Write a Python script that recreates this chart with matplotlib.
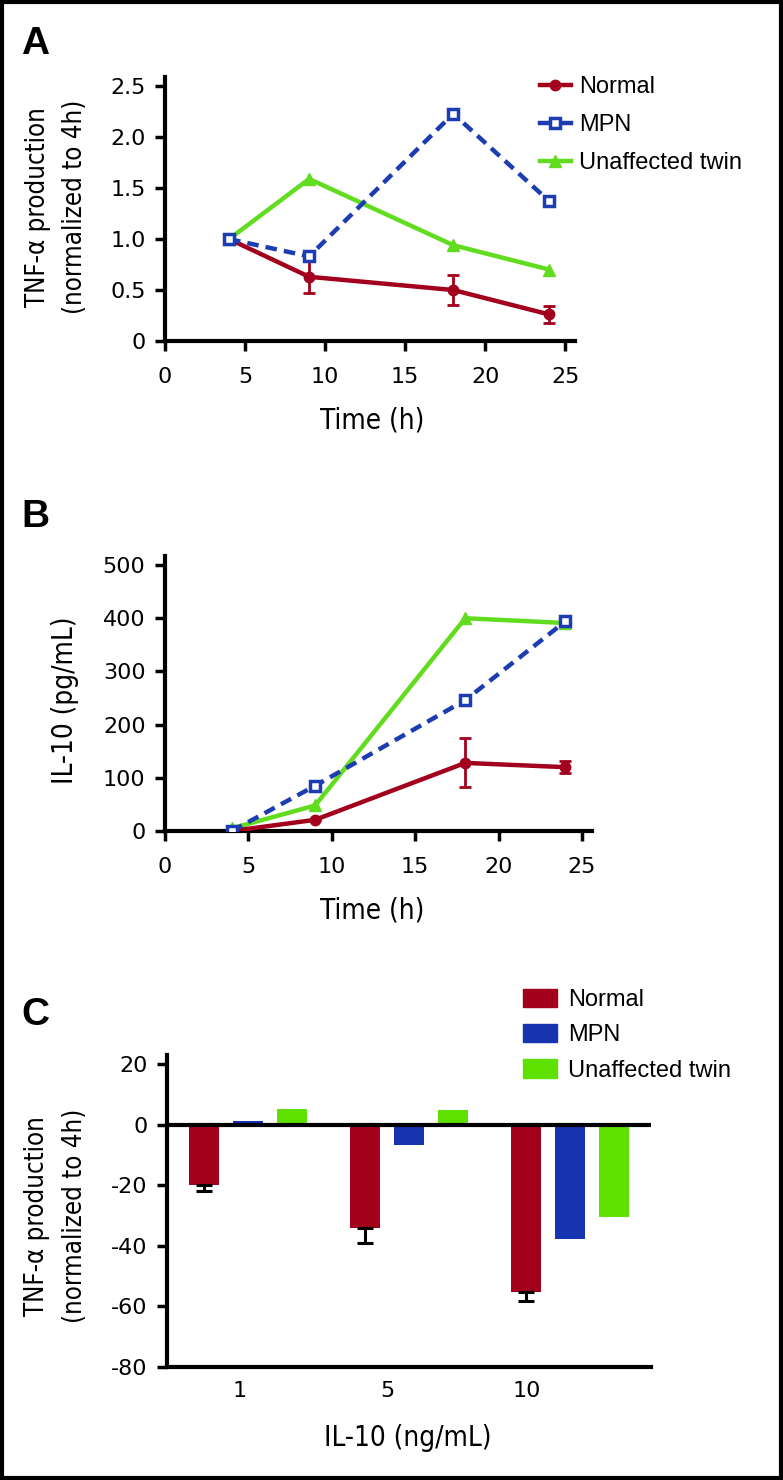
import numpy as np
import matplotlib
matplotlib.use("Agg")
from matplotlib import pyplot as plt
from matplotlib import font_manager
from matplotlib.patches import Rectangle, Patch
from matplotlib.lines import Line2D

plt.rcParams["axes.unicode_minus"] = False
plt.rcParams["font.family"] = "DejaVu Sans"
plt.rcParams["xtick.labelsize"] = 16
plt.rcParams["ytick.labelsize"] = 16

# panel A / B: time course
hours = [4, 9, 18, 24]
tnf_normal = [1.0, 0.63, 0.50, 0.26]
tnf_normal_err = [0.0, 0.155, 0.145, 0.08]
tnf_mpn = [1.0, 0.83, 2.23, 1.37]
tnf_twin = [1.0, 1.59, 0.94, 0.70]

il10_normal = [0, 21, 128, 120]
il10_normal_err = [0, 0, 46, 11]
il10_mpn = [0, 85, 246, 394]
il10_twin = [5, 48, 400, 391]

# panel C: IL-10 dose
doses = ["1", "5", "10"]
supp_normal = [-19.8, -34.2, -55.1]
supp_normal_err = [2.2, 4.8, 3.0]
supp_mpn = [1.1, -6.6, -37.9]
supp_twin = [5.3, 4.9, -30.4]

RED = "#a2001c"
BLUE = "#1c3cb2"
GREEN = "#62dc1e"
BAR_RED = "#a3001b"
BAR_BLUE = "#1633b0"
BAR_GREEN = "#5ee000"

W, H = 783, 1480
LEG_FONT = ["Liberation Sans", "DejaVu Sans"]


def condensed_font():
    # axis titles in the original use a condensed sans; take one if installed
    for f in font_manager.fontManager.ttflist:
        narrow = "narrow" in f.name.lower() or "condensed" in f.name.lower() \
            or str(f.stretch).lower() in ("condensed", "semi-condensed", "extra-condensed")
        if narrow and str(f.weight) in ("400", "normal", "regular", "500", "medium") \
                and f.style == "normal":
            return font_manager.FontProperties(fname=f.fname), True
    return font_manager.FontProperties(family="Liberation Sans"), False


LABEL_PROP, IS_NARROW = condensed_font()
XLABEL_SIZE = 20 if IS_NARROW else 18
YLABEL_SIZE = 18.5 if IS_NARROW else 17

fig = plt.figure(figsize=(W / 100, H / 100), dpi=100)


def px_axes(left, top, right, bottom):
    return fig.add_axes([left / W, 1 - bottom / H, (right - left) / W, (bottom - top) / H])


def px_text(x, y, s, **kw):
    return fig.text(x / W, 1 - y / H, s, **kw)


def style_axes(ax, xpad=12):
    for side in ("top", "right"):
        ax.spines[side].set_visible(False)
    for side in ("left", "bottom"):
        ax.spines[side].set_linewidth(3)
    ax.tick_params(axis="both", direction="out", length=7, width=2.5, pad=7)
    ax.tick_params(axis="x", pad=xpad)


def time_course(ax, normal, normal_err, mpn, twin):
    ax.plot(hours, twin, color=GREEN, lw=3.2, marker="^", ms=8, zorder=3)
    ax.errorbar(hours, normal, yerr=normal_err, color=RED, lw=3.2, marker="o",
                ms=7.5, capsize=4.5, elinewidth=2, capthick=2, zorder=4)
    ax.plot(hours, mpn, color=BLUE, lw=3.2, dashes=(2.6, 1.6), marker="s", ms=7,
            mfc="white", mec=BLUE, mew=2.5, zorder=5)
    ax.set_xlim(0, 25.6)
    ax.set_xticks([0, 5, 10, 15, 20, 25])


# ---- panel A
axA = px_axes(165, 77, 575, 341)
time_course(axA, tnf_normal, tnf_normal_err, tnf_mpn, tnf_twin)
axA.set_ylim(0, 2.59)
axA.set_yticks([0, 0.5, 1.0, 1.5, 2.0, 2.5])
axA.set_yticklabels(["0", "0.5", "1.0", "1.5", "2.0", "2.5"])
style_axes(axA)

handles = [
    Line2D([], [], color=RED, lw=3.2, marker="o", ms=7.5),
    Line2D([], [], color=BLUE, lw=3.2, marker="s", ms=7, mfc="white", mec=BLUE, mew=2.5),
    Line2D([], [], color=GREEN, lw=3.2, marker="^", ms=8),
]
fig.legend(handles, ["Normal", "MPN", "Unaffected twin"], loc="upper left",
           bbox_to_anchor=(540 / W, 1 - 76 / H), frameon=False, borderpad=0,
           borderaxespad=0, handlelength=1.3, handletextpad=0.35, labelspacing=0.68,
           prop={"family": LEG_FONT, "size": 17})

# ---- panel B
axB = px_axes(165, 556, 592, 831)
time_course(axB, il10_normal, il10_normal_err, il10_mpn, il10_twin)
axB.set_ylim(0, 517)
axB.set_yticks([0, 100, 200, 300, 400, 500])
style_axes(axB)

# ---- panel C
axC = px_axes(167, 1055, 651, 1367)
groups = np.arange(len(doses))
offset, width = 0.273, 0.183
axC.bar(groups - offset, supp_normal, width, color=BAR_RED, zorder=2)
axC.bar(groups, supp_mpn, width, color=BAR_BLUE, zorder=2)
axC.bar(groups + offset, supp_twin, width, color=BAR_GREEN, zorder=2)
axC.errorbar(groups - offset, supp_normal, yerr=[supp_normal_err, np.zeros(3)],
             fmt="none", ecolor="black", elinewidth=2.2, capsize=5.5, capthick=2.2,
             zorder=3)
axC.axhline(0, color="black", lw=3, zorder=4)
axC.set_xlim(-0.503, 2.503)
axC.set_ylim(-80, 23)
axC.set_yticks([20, 0, -20, -40, -60, -80])
axC.set_xticks(groups + np.array([-0.05, -0.137, -0.267]))
axC.set_xticklabels(doses)
style_axes(axC, xpad=10)
axC.tick_params(axis="x", length=0)

bar_handles = [Patch(color=BAR_RED), Patch(color=BAR_BLUE), Patch(color=BAR_GREEN)]
fig.legend(bar_handles, ["Normal", "MPN", "Unaffected twin"], loc="upper left",
           bbox_to_anchor=(523 / W, 1 - 989 / H), frameon=False, borderpad=0,
           borderaxespad=0, handlelength=1.45, handleheight=0.8, handletextpad=0.45,
           labelspacing=0.55, prop={"family": LEG_FONT, "size": 17})

# ---- labels
lab = dict(fontproperties=LABEL_PROP, ha="center", va="center")
for x, y, s, rot, size in [(372, 420, "Time (h)", 0, XLABEL_SIZE),
                           (372, 911, "Time (h)", 0, XLABEL_SIZE),
                           (408, 1438, "IL-10 (ng/mL)", 0, XLABEL_SIZE),
                           (57, 207, "TNF-α production\n(normalized to 4h)", 90, YLABEL_SIZE),
                           (65, 700, "IL-10 (pg/mL)", 90, XLABEL_SIZE),
                           (56, 1216, "TNF-α production\n(normalized to 4h)", 90, YLABEL_SIZE)]:
    t = px_text(x, y, s, rotation=rot, linespacing=1.55, **lab)
    t.set_fontsize(size)

panel = dict(family=LEG_FONT, size=28, weight="bold", ha="center", va="center")
px_text(35, 44, "A", **panel)
px_text(35, 517, "B", **panel)
px_text(35, 1015, "C", **panel)

fig.add_artist(Rectangle((2 / W, 2 / H), 1 - 4 / W, 1 - 4 / H, transform=fig.transFigure,
                         fill=False, edgecolor="black", lw=3))

fig.savefig("out.png", dpi=100)
